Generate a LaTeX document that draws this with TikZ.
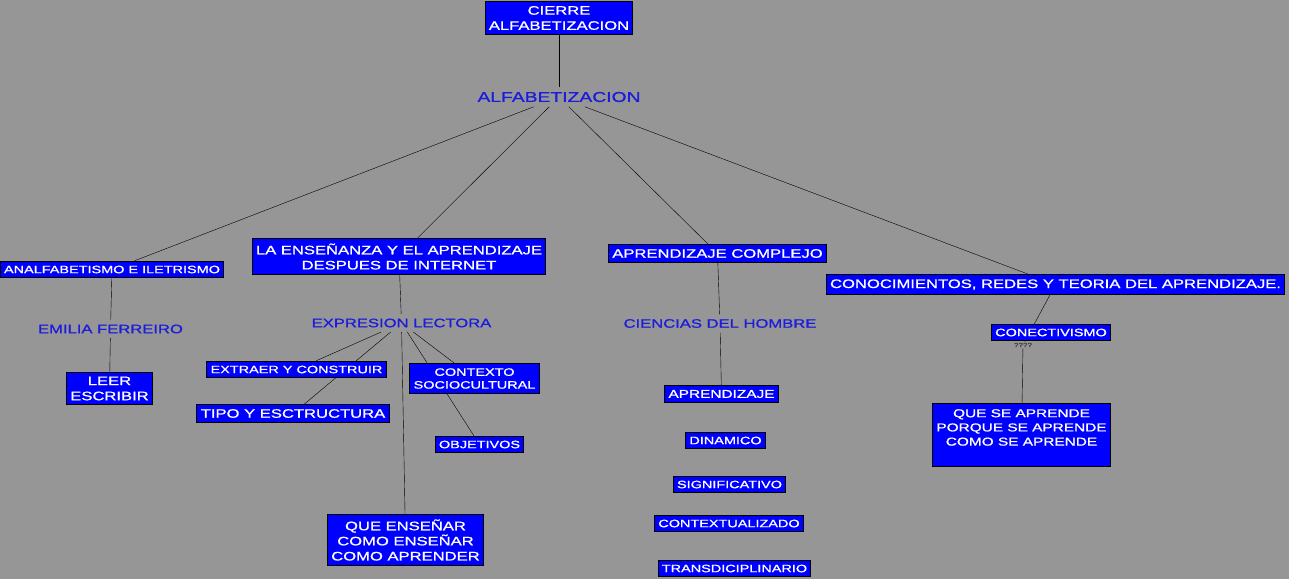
\documentclass[tikz,border=0pt]{standalone}
\usepackage{fontspec}
\setmainfont{Liberation Sans}[FakeStretch=1.35,FakeBold=1]
\usepackage{tikz}
\usetikzlibrary{backgrounds}
\definecolor{mapgray}{RGB}{150,150,150}
\definecolor{mapblue}{RGB}{0,0,255}
\definecolor{linkblue}{RGB}{28,28,220}
\newcommand{\fsm}{\fontsize{10.7}{12.8}\selectfont}
\newcommand{\fmd}{\fontsize{11.4}{14.2}\selectfont}
\newcommand{\fbg}{\fontsize{12.3}{15.1}\selectfont}
\newcommand{\fal}{\fontsize{14.3}{17}\selectfont}
\tikzset{
  cpt/.style={draw=black,line width=1pt,fill=mapblue,text=white,align=center,inner xsep=3.8pt,inner ysep=4.5pt,font=\fsm},
  cptm/.style={cpt,font=\fmd},
  cptb/.style={cpt,font=\fbg},
  lnk/.style={text=linkblue,align=center,inner sep=4.5pt,font=\fbg},
}

\begin{document}
\begin{tikzpicture}[x=1pt,y=-1pt]
  \useasboundingbox (0,0) rectangle (1289,579);
  % top: title and root
  \node[cptb] (cierre) at (559,18) {CIERRE\\ ALFABETIZACION};
  \node[lnk,font=\fal] (alfa) at (559,97) {ALFABETIZACION};

  % first level
  \node[cpt] (analf) at (112,269.5) {ANALFABETISMO E ILETRISMO};
  \node[cptb] (ensen) at (399,256.5) {LA ENSEÑANZA Y EL APRENDIZAJE\\ DESPUES DE INTERNET};
  \node[cptb] (apcom) at (717.5,253.5) {APRENDIZAJE COMPLEJO};
  \node[cptb] (conoc) at (1055.5,284.5) {CONOCIMIENTOS, REDES Y TEORIA DEL APRENDIZAJE.};

  % left branch
  \node[lnk] (emilia) at (110.5,329) {EMILIA FERREIRO};
  \node[cptb] (leer) at (109.5,388.5) {LEER\\ ESCRIBIR};

  % internet branch
  \node[lnk] (expr) at (401.5,323) {EXPRESION LECTORA};
  \node[cpt] (extr) at (296.5,369.5) {EXTRAER Y CONSTRUIR};
  \node[cptb] (tipo) at (293,413.5) {TIPO Y ESCTRUCTURA};
  \node[cpt] (ctx) at (474.5,378.5) {CONTEXTO\\ SOCIOCULTURAL};
  \node[cpt] (obj) at (479.5,444.5) {OBJETIVOS};
  \node[cptb] (que) at (405.5,540) {QUE ENSEÑAR\\ COMO ENSEÑAR\\ COMO APRENDER};

  % complex learning column
  \node[lnk] (ciencias) at (720,323.5) {CIENCIAS DEL HOMBRE};
  \node[cptm] (apr) at (721.5,394) {APRENDIZAJE};
  \node[cpt] (din) at (725.5,440.5) {DINAMICO};
  \node[cpt] (sig) at (729.5,484.5) {SIGNIFICATIVO};
  \node[cpt] (ctxz) at (729,523.5) {CONTEXTUALIZADO};
  \node[cpt] (trans) at (734.5,568.5) {TRANSDICIPLINARIO};

  % right branch
  \node[cpt] (conect) at (1051,332.5) {CONECTIVISMO};
  \node[lnk,font=\fontsize{6}{7}\selectfont,text=black!75,inner sep=1pt] (qm) at (1023,345) {????};
  \node[cptm,minimum height=63pt] (quese) at (1021.5,434.5) {QUE SE APRENDE\\ PORQUE SE APRENDE\\ COMO SE APRENDE\\ \mbox{}};

  \begin{scope}[on background layer,line width=1pt]
    \fill[mapgray] (0,0) rectangle (1289,579);
    \draw (cierre) -- (alfa);
    \draw (alfa) -- (analf);
    \draw (alfa) -- (ensen);
    \draw (alfa) -- (apcom);
    \draw (alfa) -- (conoc);
    \draw (analf) -- (emilia);
    \draw (emilia) -- (leer);
    \draw (ensen) -- (expr);
    \draw (expr) -- (extr);
    \draw (expr) -- (tipo);
    \draw (expr) -- (que);
    \draw (expr) -- (obj);
    \draw (expr) -- (ctx);
    \draw (apcom) -- (ciencias);
    \draw (ciencias) -- (apr);
    \draw (conoc) -- (qm);
    \draw (qm) -- (quese);
  \end{scope}
\end{tikzpicture}
\end{document}
